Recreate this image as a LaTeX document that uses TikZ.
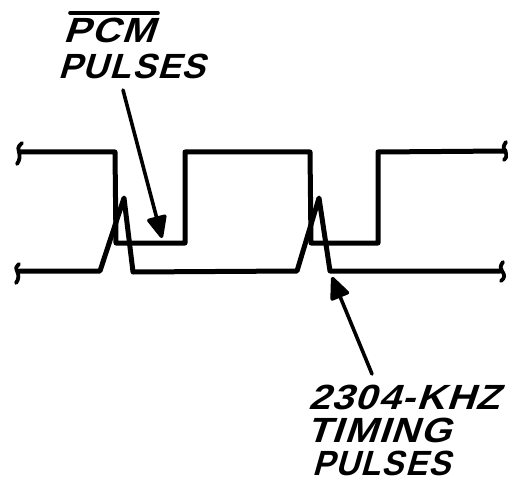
\documentclass[tikz,border=0pt]{standalone}
\usepackage{fontspec}
\usepackage{graphicx}
\usetikzlibrary{arrows.meta}
\setmainfont{Liberation Sans}
\newfontfamily\handfont[FakeSlant=0.3,LetterSpace=4]{Liberation Sans Bold}
\begin{document}
\begin{tikzpicture}[x=1pt,y=-1pt,line join=round,line cap=round,
  wave/.style={line width=5pt},
  tick/.style={line width=3.8pt},
  pointer/.style={line width=3.6pt,-{Triangle[length=25pt,width=21pt,round]}},
  lettering/.style={font=\handfont\fontsize{35}{35}\selectfont,anchor=base west,inner sep=0pt,text=black}]
\useasboundingbox (0,0) rectangle (508,481);
% waveforms
\draw[wave] (20,152) -- (115,152) -- (116,243) -- (185,243) -- (185,152) -- (310,152) -- (311,243) -- (378,243) -- (378,152) -- (505,151);
\draw[wave] (20,271) -- (100,271) -- (124,198) -- (133,272) -- (297,271) -- (319,198) -- (330,271) -- (500,271);
% break marks
\draw[tick] (22,143) .. controls (17,147) and (18,150) .. (19,152) .. controls (20,156) and (20,160) .. (17,164);
\draw[tick] (19,264) .. controls (16,267) and (15,269) .. (17,271) .. controls (19,275) and (19,279) .. (16,283);
\draw[tick] (506,142) .. controls (503,146) and (503,149) .. (505,151) .. controls (507,155) and (507,157) .. (504,160);
\draw[tick] (503,262) .. controls (500,266) and (500,269) .. (502,271) .. controls (505,275) and (505,278) .. (501,281);
% labels
\node[lettering] (pcm) at (63,43) {\scalebox{1.13}[1]{PCM}};
\node[lettering] (pulsesa) at (58,79) {PULSES};
\node[lettering] (khz) at (308,409) {\scalebox{1.12}[1]{2304-KHZ}};
\node[lettering] (timing) at (306,442) {\scalebox{1.12}[1]{TIMING}};
\node[lettering] (pulsesb) at (312,475) {\scalebox{0.94}[1]{PULSES}};
\draw[line width=3.6pt] (70,13) -- (158,13);
% arrows
\coordinate (tipa) at (162,238);
\coordinate (taila) at (123,90);
\coordinate (tipb) at (332,277);
\coordinate (tailb) at (372,374);
\draw[pointer] (taila) -- (tipa);
\draw[pointer] (tailb) -- (tipb);
\end{tikzpicture}
\end{document}
